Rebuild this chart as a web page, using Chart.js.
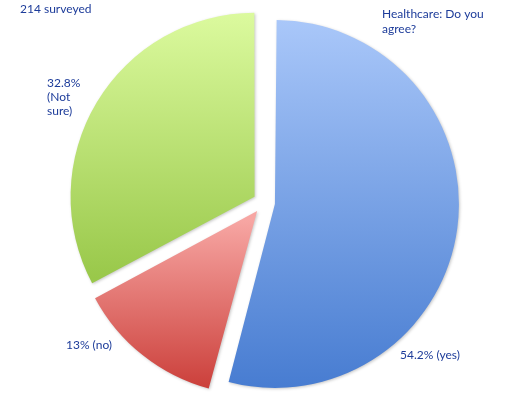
<!DOCTYPE html>
<html>
<head>
<meta charset="utf-8">
<script src="https://cdn.jsdelivr.net/npm/chart.js@4.4.0/dist/chart.umd.min.js"></script>
<style>
  html, body { margin: 0; padding: 0; background: #fff; }
  #wrap { width: 518px; height: 398px; }
</style>
</head>
<body>
<div id="wrap"><canvas id="myPieChart" width="518" height="398"></canvas></div>
<script>
// survey answers, in percent
var labels = ['yes', 'no', 'Not sure'];
var values = [54.2, 13, 32.8];
var valueLabels = [['54.2% (yes)'], ['13% (no)'], ['32.8%', '(Not', 'sure)']];
var titleLines = ['Healthcare: Do you', 'agree?'];
var noteLines = ['214 surveyed'];

var topColors = ['#a9c7f9', '#f7a6a3', '#ddfba0'];
var bottomColors = ['#477cd1', '#c93a35', '#99c84a'];
var explode = 44;       // chart.js moves a slice by offset/4
var pieRadius = 184;
var textColor = '#1d3c9a';

function sliceAngles(i) {
	var total = values.reduce(function(a, b) { return a + b; }, 0);
	var before = 0;
	for (var j = 0; j < i; j++) before += values[j];
	var a0 = -Math.PI / 2 + before / total * 2 * Math.PI;
	return [a0, a0 + values[i] / total * 2 * Math.PI];
}

function sliceGradient(context) {
	var chart = context.chart,
	    area = chart.chartArea,
	    i = context.dataIndex;
	if (!area) return bottomColors[i];

	var a = sliceAngles(i), a0 = a[0], a1 = a[1], mid = (a0 + a1) / 2;
	var cy = (area.top + area.bottom) / 2 + Math.sin(mid) * explode / 4;
	var ys = [cy, cy + Math.sin(a0) * pieRadius, cy + Math.sin(a1) * pieRadius];
	if (a0 <= Math.PI / 2 && a1 >= Math.PI / 2) ys.push(cy + pieRadius);
	if (a0 <= 3 * Math.PI / 2 && a1 >= 3 * Math.PI / 2) ys.push(cy - pieRadius);

	var g = chart.ctx.createLinearGradient(0, Math.min.apply(null, ys), 0, Math.max.apply(null, ys));
	g.addColorStop(0, topColors[i]);
	g.addColorStop(1, bottomColors[i]);
	return g;
}

var explodePlugin = {
	id: 'evenExplode',
	// chart.js grows an exploded arc by offset/4*(1-sin(angle)); take that back so all slices share one radius
	afterDatasetUpdate: function(chart, args) {
		var meta = chart.getDatasetMeta(args.index);
		meta.data.forEach(function(arc) {
			var c = Math.min(Math.PI, arc.endAngle - arc.startAngle);
			arc.outerRadius = pieRadius - explode / 4 * (1 - Math.sin(c));
		});
	},
	beforeDatasetsDraw: function(chart) {
		var ctx = chart.ctx;
		ctx.save();
		ctx.shadowColor = 'rgba(0,0,0,0.22)';
		ctx.shadowBlur = 3;
		ctx.shadowOffsetX = 1;
		ctx.shadowOffsetY = 1;
	},
	afterDatasetsDraw: function(chart) {
		chart.ctx.restore();
	},
	afterDraw: function(chart) {
		var ctx = chart.ctx;
		ctx.save();
		ctx.fillStyle = textColor;
		ctx.font = '12px Lato, sans-serif';
		ctx.textBaseline = 'alphabetic';
		ctx.textAlign = 'left';

		function lines(arr, x, y, lh) {
			arr.forEach(function(t, n) { ctx.fillText(t, x, y + n * lh); });
		}
		lines(noteLines, 20, 13, 14);
		lines(titleLines, 382, 18, 15);
		lines(valueLabels[2], 47, 87, 14);
		lines(valueLabels[1], 66, 349, 14);
		lines(valueLabels[0], 400, 359, 14);
		ctx.restore();
	}
};

var ctx = document.getElementById('myPieChart');
var myPieChart = new Chart(ctx, {
	type: 'pie',
	data: {
		labels: labels,
		datasets: [{
			data: values,
			backgroundColor: sliceGradient,
			borderWidth: 0,
			offset: explode,
			radius: pieRadius
		}]
	},
	plugins: [explodePlugin],
	options: {
		responsive: false,
		animation: false,
		events: [],
		layout: { padding: { left: 10, right: 0, top: 7, bottom: 0 } },
		plugins: {
			legend: { display: false },
			tooltip: { enabled: false }
		}
	}
});
</script>
</body>
</html>
